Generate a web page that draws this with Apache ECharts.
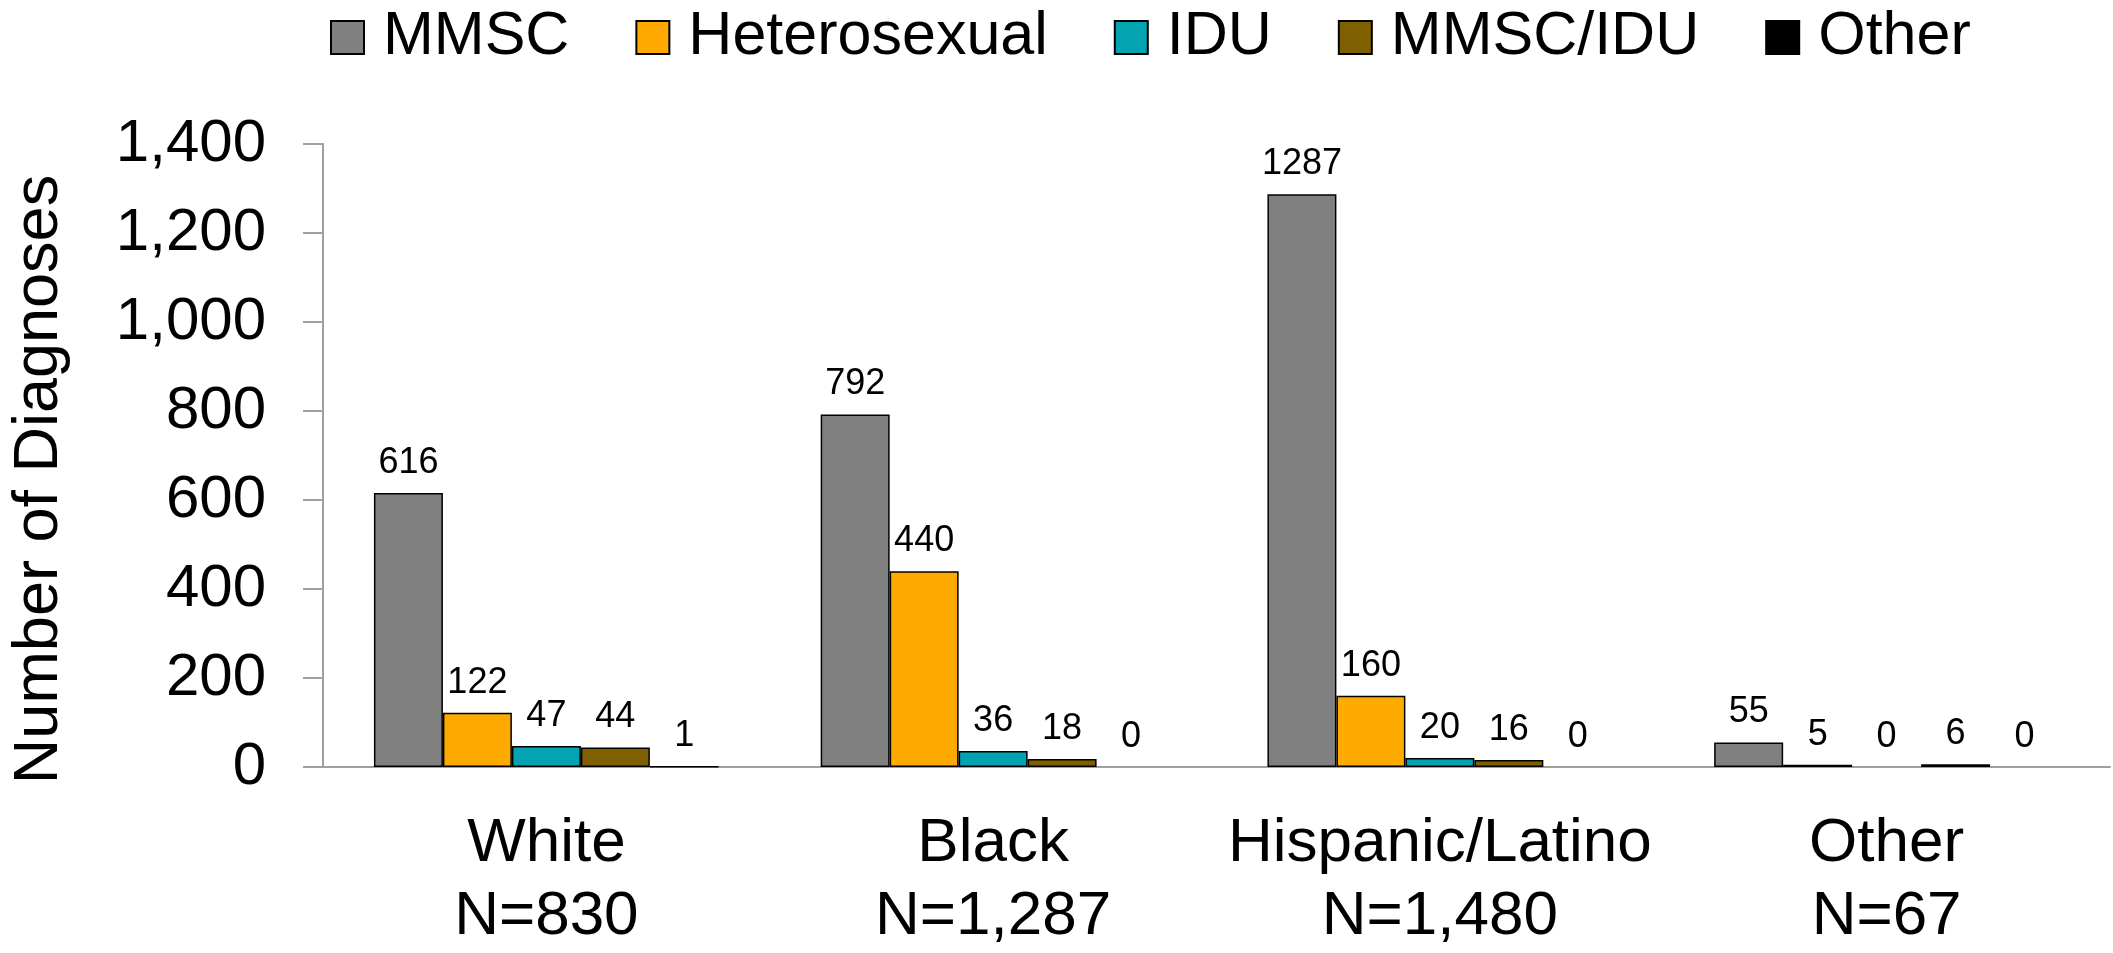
<!DOCTYPE html>
<html>
<head>
<meta charset="utf-8">
<script src="https://cdn.jsdelivr.net/npm/echarts@6/dist/echarts.min.js"></script>
<style>
    html, body { margin: 0; padding: 0; background: #fff; }
    #chart { width: 2113px; height: 953px; }
</style>
</head>
<body>
<div id="chart"></div>
<script>
// categories and counts
const categories = ["White\nN=830", "Black\nN=1,287", "Hispanic/Latino\nN=1,480", "Other\nN=67"];
const seriesNames = ["MMSC", "Heterosexual", "IDU", "MMSC/IDU", "Other"];
const mmsc = [616, 792, 1287, 55];
const hetero = [122, 440, 160, 5];
const idu = [47, 36, 20, 0];
const mmscIdu = [44, 18, 16, 6];
const other = [1, 0, 0, 0];
const colors = ["#808080", "#FFAA00", "#03A3B2", "#7F6000", "#000000"];

const FONT = "Liberation Sans, Arial, sans-serif";

// zero bars get no outline, like in the original
function toData(values) {
    return values.map(function (v) {
        return v === 0 ? { value: 0, itemStyle: { borderWidth: 0 } } : v;
    });
}

function makeSeries(name, values, color) {
    return {
        name: name,
        type: "bar",
        data: toData(values),
        barGap: "0%",
        barCategoryGap: "22.8%",
        itemStyle: { color: color, borderColor: "#000", borderWidth: 1.5 },
        label: {
            show: true,
            position: "top",
            distance: 12,
            color: "#000",
            fontFamily: FONT,
            fontSize: 36
        }
    };
}

const chart = echarts.init(document.getElementById("chart"));
chart.setOption({
    animation: false,
    textStyle: { fontFamily: FONT },
    color: colors,
    legend: {
        data: seriesNames,
        left: 325,
        top: 2,
        icon: "rect",
        itemWidth: 33,
        itemHeight: 33,
        itemGap: 66,
        textStyle: { fontSize: 61, color: "#000", fontFamily: FONT, padding: [0, 0, 0, 14] }
    },
    grid: { left: 323, right: 3, top: 144, bottom: 183, containLabel: false },
    xAxis: {
        type: "category",
        data: categories,
        axisLine: { lineStyle: { color: "#A0A0A0", width: 2 } },
        axisTick: { inside: true, length: 19, lineStyle: { color: "#A0A0A0", width: 2 } },
        axisLabel: {
            color: "#000",
            fontSize: 62,
            lineHeight: 73,
            margin: 40,
            fontFamily: FONT,
            interval: 0
        }
    },
    yAxis: {
        type: "value",
        min: 0,
        max: 1400,
        interval: 200,
        name: "Number of Diagnoses",
        nameLocation: "middle",
        nameGap: 252,
        nameTextStyle: { fontSize: 63, color: "#000", fontFamily: FONT, padding: [0, 48, 0, 0] },
        splitLine: { show: false },
        axisLine: { show: true, lineStyle: { color: "#A0A0A0", width: 2 } },
        axisTick: { show: true, length: 20, lineStyle: { color: "#A0A0A0", width: 2 } },
        axisLabel: {
            color: "#000",
            fontSize: 60,
            margin: 57,
            fontFamily: FONT,
            formatter: function (v) { return v.toLocaleString("en-US"); }
        }
    },
    series: [
        makeSeries(seriesNames[0], mmsc, colors[0]),
        makeSeries(seriesNames[1], hetero, colors[1]),
        makeSeries(seriesNames[2], idu, colors[2]),
        makeSeries(seriesNames[3], mmscIdu, colors[3]),
        makeSeries(seriesNames[4], other, colors[4])
    ]
});
</script>
</body>
</html>
